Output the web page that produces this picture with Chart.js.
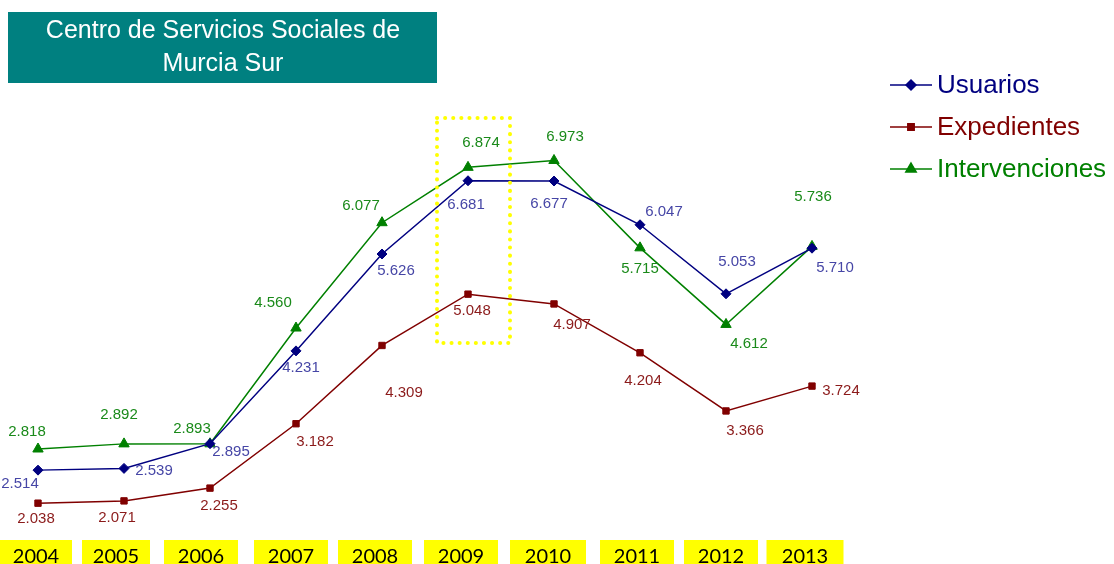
<!DOCTYPE html>
<html lang="es">
  <head>
    <meta charset="utf-8" />
    <title>Centro de Servicios Sociales de Murcia Sur</title>
    <style>
      * {
        margin: 0;
        padding: 0;
      }
      body {
        background: white;
        width: 1114px;
        height: 564px;
        overflow: hidden;
      }
    </style>
  </head>
  <body>
    <canvas id="myChart" width="1114" height="564"></canvas>

    <script src="https://cdn.jsdelivr.net/npm/chart.js"></script>
    <script>
      // data
      const years = ["2004", "2005", "2006", "2007", "2008", "2009", "2010", "2011", "2012", "2013"];
      const usuarios = [2514, 2539, 2895, 4231, 5626, 6681, 6677, 6047, 5053, 5710];
      const expedientes = [2038, 2071, 2255, 3182, 4309, 5048, 4907, 4204, 3366, 3724];
      const intervenciones = [2818, 2892, 2893, 4560, 6077, 6874, 6973, 5715, 4612, 5736];
      const highlightYear = "2009";

      // label offsets (dx, dy) from each point
      const usuariosOff = [[-18, 14], [30, 2], [21, 8], [5, 17], [14, 17], [-2, 24], [-5, 23], [24, -13], [11, -32], [23, 20]];
      const expedientesOff = [[-2, 16], [-7, 17], [9, 18], [19, 18], [22, 47], [4, 17], [18, 21], [3, 28], [19, 20], [29, 5]];
      const intervencionesOff = [[-11, -17], [-5, -29], [-18, -15], [-23, -25], [-21, -17], [13, -24], [11, -24], [0, 21], [23, 19], [1, -50]];
      // year box shift and width
      const boxShift = [-2, -8, -9, -5, -7, -7, -6, -3, -5, -7];
      const boxWidth = [72, 68, 74, 74, 74, 74, 76, 74, 74, 77];

      const fmt = (v) => v.toLocaleString("de-DE");
      const sans = "Arial, 'Liberation Sans', Helvetica, sans-serif";

      // title, legend, year boxes, highlight box, value labels
      const decorations = {
        id: "decorations",
        afterDatasetsDraw(chart) {
          const { ctx, scales: { x } } = chart;
          ctx.save();

          // highlight box around 2009
          const hx = x.getPixelForValue(years.indexOf(highlightYear));
          ctx.strokeStyle = "#ffff00";
          ctx.lineWidth = 4;
          ctx.lineCap = "round";
          ctx.setLineDash([0.1, 8]);
          ctx.strokeRect(hx - 31, 118, 73, 225);
          ctx.setLineDash([]);
          ctx.lineCap = "butt";

          // value labels
          ctx.font = "15px " + sans;
          ctx.textAlign = "center";
          ctx.textBaseline = "middle";
          const offs = [usuariosOff, expedientesOff, intervencionesOff];
          chart.data.datasets.forEach((ds, i) => {
            const meta = chart.getDatasetMeta(i);
            ctx.fillStyle = ds.labelColor;
            meta.data.forEach((pt, j) => {
              ctx.fillText(fmt(ds.data[j]), pt.x + offs[i][j][0], pt.y + offs[i][j][1]);
            });
          });

          // year boxes
          ctx.font = "20px Lato, 'Liberation Sans', sans-serif";
          years.forEach((y, i) => {
            const px = x.getPixelForValue(i) + boxShift[i];
            ctx.fillStyle = "#ffff00";
            ctx.fillRect(px - boxWidth[i] / 2, 540, boxWidth[i], 30);
            ctx.fillStyle = "#000000";
            ctx.textBaseline = "alphabetic";
            ctx.fillText(y, px, 563);
          });

          // title box
          ctx.fillStyle = "#008080";
          ctx.fillRect(8, 12, 429, 71);
          ctx.fillStyle = "#ffffff";
          ctx.font = "25px " + sans;
          ctx.textBaseline = "middle";
          ctx.fillText("Centro de Servicios Sociales de", 223, 31);
          ctx.fillText("Murcia Sur", 223, 64);

          // legend
          ctx.textAlign = "left";
          ctx.font = "26px " + sans;
          chart.data.datasets.forEach((ds, i) => {
            const ly = 85 + i * 42;
            ctx.strokeStyle = ds.borderColor;
            ctx.lineWidth = 1.5;
            ctx.beginPath();
            ctx.moveTo(890, ly);
            ctx.lineTo(932, ly);
            ctx.stroke();
            Chart.helpers.drawPoint(ctx, { pointStyle: ds.pointStyle, radius: ds.pointRadius, borderWidth: 1 }, 911, ly);
            ctx.fillStyle = ds.borderColor;
            ctx.fill();
            ctx.fillText(ds.label, 937, ly + 1);
          });

          ctx.restore();
        },
      };

      const data = {
        labels: years,
        datasets: [
          {
            label: "Usuarios",
            data: usuarios,
            borderColor: "#000080",
            backgroundColor: "#000080",
            labelColor: "#4646a6",
            pointStyle: "rectRot",
            pointRadius: 5,
          },
          {
            label: "Expedientes",
            data: expedientes,
            borderColor: "#800000",
            backgroundColor: "#800000",
            labelColor: "#8b1a1a",
            pointStyle: "rect",
            pointRadius: 4.5,
          },
          {
            label: "Intervenciones",
            data: intervenciones,
            borderColor: "#008000",
            backgroundColor: "#008000",
            labelColor: "#1a8a1a",
            pointStyle: "triangle",
            pointRadius: 6,
          },
        ],
      };

      const config = {
        type: "line",
        data: data,
        options: {
          responsive: false,
          animation: false,
          clip: false,
          layout: {
            padding: { left: 38, right: 302, top: 0, bottom: 0 },
          },
          elements: {
            line: { borderWidth: 1.5, tension: 0 },
            point: { borderWidth: 1 },
          },
          plugins: {
            legend: { display: false },
            tooltip: { enabled: false },
          },
          scales: {
            x: { display: false },
            y: { display: false, min: 1263, max: 9183 },
          },
        },
        plugins: [decorations],
      };

      const ctx = document.getElementById("myChart");
      const myChart = new Chart(ctx, config);
    </script>
  </body>
</html>
